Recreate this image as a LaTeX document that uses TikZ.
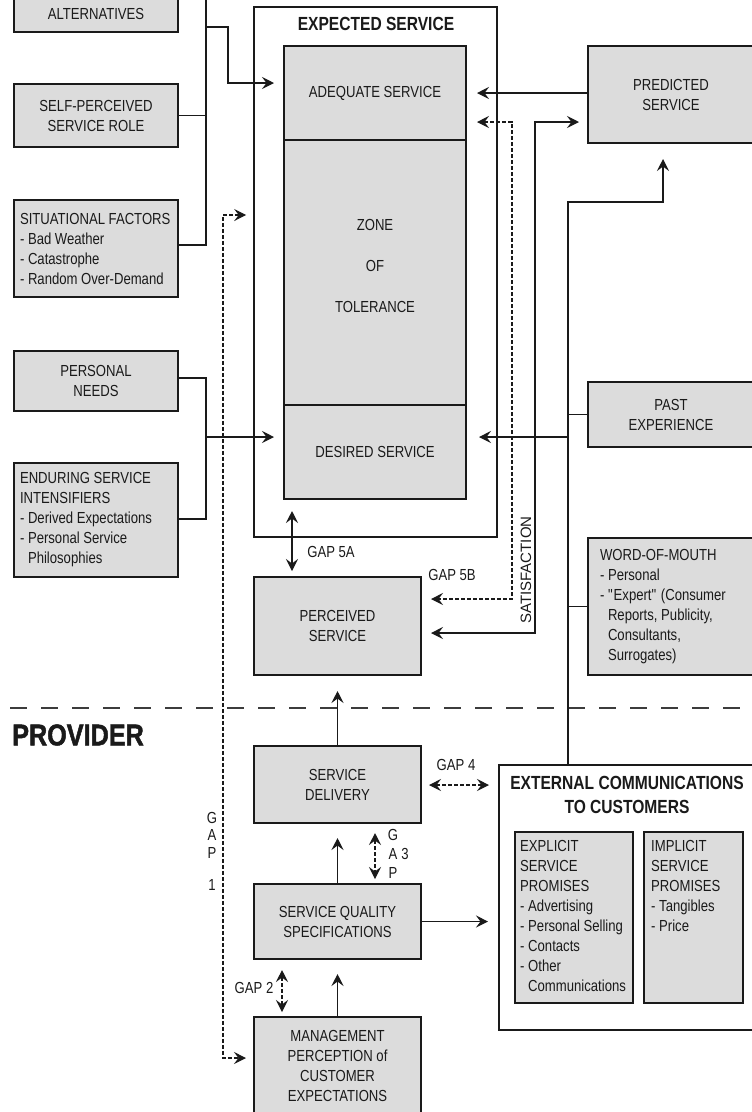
\documentclass[tikz,border=0pt]{standalone}
\usepackage{fontspec}
\setmainfont[FakeStretch=0.82]{Liberation Sans}
\newfontfamily\widesans{Liberation Sans}
\newfontfamily\provfont[FakeStretch=0.84,FakeBold=1.6]{Liberation Sans Bold}
\usetikzlibrary{arrows.meta}
\definecolor{boxgray}{HTML}{DCDCDC}
\definecolor{ink}{HTML}{1A1A1A}
\begin{document}
\begin{tikzpicture}[x=1pt,y=-1pt,
  every node/.style={text=ink, font=\fontsize{16}{20}\selectfont, inner sep=0pt},
  gbox/.style={draw=ink, fill=boxgray, line width=2pt, align=center},
  lbox/.style={gbox, align=flush left},
  wbox/.style={draw=ink, fill=white, line width=1.6pt},
  conn/.style={draw=ink, line width=1.3pt},
  arr/.style={conn, -{Stealth[length=12pt,width=12pt,inset=4.5pt]}},
  barr/.style={conn, {Stealth[length=12pt,width=12pt,inset=4.5pt]}-{Stealth[length=12pt,width=12pt,inset=4.5pt]}},
  dsh/.style={dash pattern=on 4pt off 2pt, line width=1.2pt},
]
\useasboundingbox (0,0) rectangle (752,1112);
\clip (0,0) rectangle (752,1112);
\fill[white] (0,0) rectangle (752,1112);

% ---------- left column ----------
\node[gbox, minimum width=164, minimum height=72] (alt) at (96,-4) {};
\node (altt) at (96,14) {ALTERNATIVES};
\node[gbox, minimum width=164, minimum height=63] (spr) at (96,115.5) {SELF-PERCEIVED\\SERVICE ROLE};
\node[lbox, minimum width=164, minimum height=97, text width=152] (sit) at (96,248.5)
  {SITUATIONAL FACTORS\\- Bad Weather\\- Catastrophe\\- Random Over-Demand};
\node[gbox, minimum width=164, minimum height=60] (pn) at (96,381) {PERSONAL\\NEEDS};
\node[lbox, minimum width=164, minimum height=114, text width=152] (esi) at (96,520)
  {ENDURING SERVICE\\INTENSIFIERS\\- Derived Expectations\\- Personal Service\\\phantom{- }Philosophies};

% ---------- expected service ----------
\node[wbox, minimum width=243, minimum height=530] (exp) at (375.5,272) {};
\node[font=\bfseries\fontsize{19}{22}\selectfont] (expt) at (376,24) {EXPECTED SERVICE};
\node[gbox, minimum width=182, minimum height=94] (adq) at (375,93) {ADEQUATE SERVICE};
\node[gbox, minimum width=182, minimum height=265] (zot) at (375,272.5) {};
\node[align=center, font=\fontsize{16}{41}\selectfont] (zott) at (375,266) {ZONE\\OF\\TOLERANCE};
\node[gbox, minimum width=182, minimum height=94] (des) at (375,452) {DESIRED SERVICE};

% ---------- right column ----------
\node[gbox, minimum width=166, minimum height=97] (pred) at (671,94.5) {PREDICTED\\SERVICE};
\node[gbox, minimum width=166, minimum height=65] (past) at (671,414.5) {PAST\\EXPERIENCE};
\node[lbox, minimum width=166, minimum height=137, text width=142] (wom) at (671,606.5)
  {WORD-OF-MOUTH\\- Personal\\- \textquotedbl Expert\textquotedbl\ (Consumer\\\phantom{- }Reports, Publicity,\\\phantom{- }Consultants,\\\phantom{- }Surrogates)};

% ---------- perceived / provider ----------
\node[gbox, minimum width=167, minimum height=98] (perc) at (337.5,626) {PERCEIVED\\SERVICE};
\node[gbox, minimum width=167, minimum height=77] (sd) at (337.5,784.5) {SERVICE\\DELIVERY};
\node[gbox, minimum width=167, minimum height=75] (sqs) at (337.5,921.5) {SERVICE QUALITY\\SPECIFICATIONS};
\node[gbox, minimum width=167, minimum height=98] (mgmt) at (337.5,1066) {MANAGEMENT\\PERCEPTION of\\CUSTOMER\\EXPECTATIONS};

\node[wbox, line width=2pt, minimum width=256, minimum height=265] (ext) at (627,897.5) {};
\node[font=\bfseries\fontsize{19}{24}\selectfont, align=center] (extt) at (627,795) {EXTERNAL COMMUNICATIONS\\TO CUSTOMERS};
\node[gbox, minimum width=118, minimum height=171] (expl) at (574,917.5) {};
\node[anchor=north west, align=left] (explt) at (520,840)
  {EXPLICIT\\SERVICE\\PROMISES\\- Advertising\\- Personal Selling\\- Contacts\\- Other\\\phantom{- }Communications};
\node[gbox, minimum width=99, minimum height=171] (impl) at (693.5,917.5) {};
\node[anchor=north west, align=left] (implt) at (651,840)
  {IMPLICIT\\SERVICE\\PROMISES\\- Tangibles\\- Price};

% ---------- divider and PROVIDER ----------
\coordinate (dv1) at (10,708);
\coordinate (dv2) at (752,708);
\draw[ink!85, line width=1.3pt, dash pattern=on 17pt off 14pt] (dv1) -- (dv2);
\node[anchor=west, font=\provfont\fontsize{30}{30}\selectfont] (prov) at (12,735) {PROVIDER};

% ---------- labels ----------
\node (g5a) at (331,552) {GAP 5A};
\node (g5b) at (452,575) {GAP 5B};
\node[rotate=90, font=\widesans\fontsize{15}{18}\selectfont] (sat) at (526,570) {SATISFACTION};
\node (g4) at (456,765) {GAP 4};
\node[align=center, font=\fontsize{16}{19}\selectfont] (g3) at (393,854) {G\\A\\P};
\node (g3n) at (405,854) {3};
\node[align=center, font=\fontsize{16}{17.5}\selectfont] (g1) at (212,835) {G\\A\\P};
\node (g1n) at (212,885) {1};
\node (g2) at (254,988) {GAP 2};

% ---------- connectors: left ----------
\coordinate (ja) at (206,-4);
\coordinate (jb) at (206,245);
\draw[conn] (alt.east) -- (ja) -- (jb) -- (jb -| sit.east);
\draw[conn] (spr.east) -- (spr.east -| ja);
\coordinate (jc) at (206,27);
\coordinate (jd) at (228,27);
\coordinate (je) at (228,83);
\draw[arr, shorten >=9pt] (jc) -- (jd) -- (je) -- (je -| adq.west);

\coordinate (jf) at (206,378);
\coordinate (jg) at (206,519);
\coordinate (jh) at (206,437);
\draw[conn] (pn.east |- jf) -- (jf) -- (jg) -- (esi.east |- jg);
\draw[arr, shorten >=9pt] (jh) -- (jh -| des.west);

% ---------- connectors: right ----------
\coordinate (ji) at (588,93);
\draw[arr, shorten >=10pt] (pred.west |- ji) -- (ji -| adq.east);

\coordinate (s1) at (512,122);
\coordinate (s2) at (512,599);
\draw[barr, dsh, shorten <=10pt, shorten >=9pt] (s1 -| adq.east) -- (s1) -- (s2) -- (s2 -| perc.east);

\coordinate (p1) at (535,122);
\coordinate (p2) at (535,633);
\draw[barr, shorten <=9pt, shorten >=8pt] (p2 -| perc.east) -- (p2) -- (p1) -- (p1 -| pred.west);

\coordinate (r1) at (568,202);
\coordinate (r2) at (663,202);
\coordinate (r3) at (568,437);
\draw[arr, shorten >=15pt] (ext.north -| r1) -- (r1) -- (r2) -- (r2 |- pred.south);
\draw[conn] (past.west) -- (past.west -| r1);
\draw[conn] (wom.west) -- (wom.west -| r1);
\draw[arr, shorten >=12pt] (r3) -- (r3 -| des.east);

% GAP 5A
\coordinate (k5) at (292,0);
\draw[barr, shorten <=11pt, shorten >=5pt] (des.south -| k5) -- (perc.north -| k5);

% ---------- connectors: provider ----------
\draw[arr, shorten >=15pt] (sd.north) -- (perc.south);
\draw[arr, shorten >=14pt] (sqs.north) -- (sd.south);
\draw[arr, shorten >=14pt] (mgmt.north) -- (sqs.south);
\draw[arr, shorten >=10pt] (sqs.east) -- (sqs.east -| ext.west);

\coordinate (k4) at (0,785);
\draw[barr, dsh, shorten <=7pt, shorten >=9pt] (k4 -| sd.east) -- (k4 -| ext.west);
\coordinate (k3) at (375,0);
\draw[barr, dsh, shorten <=9pt, shorten >=4pt] (k3 |- sd.south) -- (k3 |- sqs.north);
\coordinate (k2) at (282,0);
\draw[barr, dsh, shorten <=10pt, shorten >=4pt] (k2 |- sqs.south) -- (k2 |- mgmt.north);

\coordinate (q1) at (223,215);
\coordinate (q2) at (223,1058);
\draw[barr, dsh, shorten <=7pt, shorten >=7pt] (q1 -| exp.west) -- (q1) -- (q2) -- (q2 -| mgmt.west);
\end{tikzpicture}
\end{document}
